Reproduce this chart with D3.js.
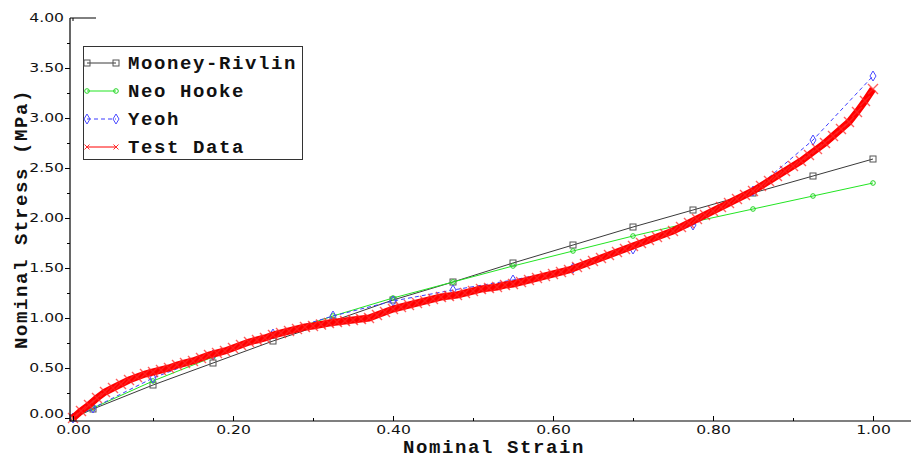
<!DOCTYPE html>
<html>
<head>
<meta charset="utf-8">
<script src="https://cdn.jsdelivr.net/npm/d3@7"></script>
<style>
  html, body { margin: 0; padding: 0; background: #fff; }
  svg { display: block; }
</style>
</head>
<body>
<svg id="chart" width="912" height="460"></svg>
<script>
// Hyperelastic model fits evaluated at a common set of nominal strains
const modelStrain = [0, 0.025, 0.1, 0.175, 0.25, 0.325, 0.4, 0.475, 0.55, 0.625, 0.7, 0.775, 0.85, 0.925, 1.0];
const mooneyRivlin = [0, 0.09, 0.33, 0.55, 0.77, 0.97, 1.18, 1.36, 1.55, 1.73, 1.91, 2.08, 2.25, 2.42, 2.59];
const neoHooke = [0, 0.10, 0.37, 0.61, 0.82, 1.02, 1.20, 1.36, 1.52, 1.67, 1.82, 1.96, 2.09, 2.22, 2.35];
const yeoh = [0, 0.10, 0.40, 0.63, 0.84, 1.02, 1.17, 1.28, 1.38, 1.50, 1.69, 1.93, 2.27, 2.78, 3.42];

// Uniaxial test measurements
const testStrain = [
  0.00, 0.01, 0.02, 0.03, 0.04, 0.05, 0.06, 0.07, 0.08, 0.09,
  0.10, 0.11, 0.12, 0.13, 0.14, 0.15, 0.16, 0.17, 0.18, 0.19,
  0.20, 0.21, 0.22, 0.23, 0.24, 0.25, 0.26, 0.27, 0.28, 0.29,
  0.30, 0.31, 0.32, 0.33, 0.34, 0.35, 0.36, 0.37, 0.38, 0.39,
  0.40, 0.41, 0.42, 0.43, 0.44, 0.45, 0.46, 0.47, 0.48, 0.49,
  0.50, 0.51, 0.52, 0.53, 0.54, 0.55, 0.56, 0.57, 0.58, 0.59,
  0.60, 0.61, 0.62, 0.63, 0.64, 0.65, 0.66, 0.67, 0.68, 0.69,
  0.70, 0.71, 0.72, 0.73, 0.74, 0.75, 0.76, 0.77, 0.78, 0.79,
  0.80, 0.81, 0.82, 0.83, 0.84, 0.85, 0.86, 0.87, 0.88, 0.89,
  0.90, 0.91, 0.92, 0.93, 0.94, 0.95, 0.96, 0.97, 0.98, 0.99,
  1.00
];
const testStress = [
  0.00, 0.07, 0.13, 0.20, 0.26, 0.30, 0.34, 0.38, 0.41, 0.44,
  0.46, 0.48, 0.50, 0.53, 0.55, 0.57, 0.60, 0.63, 0.65, 0.67,
  0.70, 0.73, 0.76, 0.78, 0.80, 0.83, 0.85, 0.87, 0.89, 0.91,
  0.92, 0.935, 0.95, 0.96, 0.97, 0.98, 0.99, 1.00, 1.03, 1.06,
  1.09, 1.11, 1.13, 1.15, 1.17, 1.19, 1.21, 1.22, 1.23, 1.25,
  1.27, 1.29, 1.30, 1.31, 1.33, 1.34, 1.36, 1.38, 1.40, 1.42,
  1.44, 1.46, 1.48, 1.51, 1.54, 1.57, 1.60, 1.63, 1.66, 1.69,
  1.72, 1.75, 1.78, 1.81, 1.84, 1.87, 1.91, 1.95, 1.99, 2.03,
  2.07, 2.11, 2.15, 2.19, 2.23, 2.27, 2.32, 2.37, 2.42, 2.47,
  2.52, 2.57, 2.63, 2.69, 2.75, 2.82, 2.89, 2.96, 3.06, 3.17,
  3.29
];

const xMajorTicks = [0, 0.2, 0.4, 0.6, 0.8, 1.0];
const xMinorTicks = [0.1, 0.3, 0.5, 0.7, 0.9];
const yMajorTicks = [0, 0.5, 1.0, 1.5, 2.0, 2.5, 3.0, 3.5, 4.0];
const yMinorTicks = [0.25, 0.75, 1.25, 1.75, 2.25, 2.75, 3.25, 3.75];

const xTitle = "Nominal Strain";
const yTitle = "Nominal Stress (MPa)";
const legendNames = ["Mooney-Rivlin", "Neo Hooke", "Yeoh", "Test Data"];

const svg = d3.select("#chart");
const x = d3.scaleLinear().domain([0, 1]).range([73, 873]);
const y = d3.scaleLinear().domain([0, 4]).range([418, 18]);

const axisX0 = 70;   // y-axis line position
const axisY0 = 421;  // x-axis line position
const labelFont = "'DejaVu Sans', sans-serif";
const titleFont = "'Liberation Mono', 'Courier New', monospace";
const titleSize = 19;
const titleSpacing = 1.6;
const sx = 1.25;     // horizontal stretch of tick labels

// ---- series styles
const styles = {
  "Mooney-Rivlin": { color: "#3a3a3a", marker: "square", mcolor: "#555", dash: null },
  "Neo Hooke":     { color: "#22e522", marker: "circle", mcolor: "#22d422", dash: null },
  "Yeoh":          { color: "#3b3bff", marker: "diamond", mcolor: "#4a4aff", dash: "4,3" },
  "Test Data":     { color: "#ff0000", marker: "cross", mcolor: "#ff2a2a", dash: null }
};

function drawMarker(g, type, cx, cy, color) {
  if (type === "square") {
    g.append("rect").attr("x", cx - 3).attr("y", cy - 3).attr("width", 6).attr("height", 6)
      .attr("fill", "none").attr("stroke", color).attr("stroke-width", 1);
  } else if (type === "circle") {
    g.append("circle").attr("cx", cx).attr("cy", cy).attr("r", 2.3)
      .attr("fill", "none").attr("stroke", color).attr("stroke-width", 1);
  } else if (type === "diamond") {
    g.append("path").attr("d", `M${cx},${cy - 5}L${cx + 3},${cy}L${cx},${cy + 5}L${cx - 3},${cy}Z`)
      .attr("fill", "none").attr("stroke", color).attr("stroke-width", 1);
  } else if (type === "cross") {
    g.append("path").attr("d", `M${cx - 5},${cy - 5}L${cx + 5},${cy + 5}M${cx - 5},${cy + 5}L${cx + 5},${cy - 5}`)
      .attr("fill", "none").attr("stroke", color).attr("stroke-width", 1.4).attr("stroke-opacity", 0.75);
  }
}

const line = d3.line().x(d => x(d[0])).y(d => y(d[1]));

function drawSeries(name, xs, ys, lineWidth) {
  const st = styles[name];
  const pts = xs.map((v, i) => [v, ys[i]]);
  const g = svg.append("g").attr("class", "series");
  g.append("path").datum(pts).attr("d", line)
    .attr("fill", "none").attr("stroke", st.color).attr("stroke-width", lineWidth)
    .attr("stroke-dasharray", st.dash);
  pts.forEach(p => drawMarker(g, st.marker, x(p[0]), y(p[1]), st.mcolor));
}

drawSeries("Mooney-Rivlin", modelStrain, mooneyRivlin, 1);
drawSeries("Neo Hooke", modelStrain, neoHooke, 1);
drawSeries("Yeoh", modelStrain, yeoh, 1);
drawSeries("Test Data", testStrain, testStress, 7);

// ---- axes
const gx = svg.append("g").attr("transform", `translate(0,${axisY0})`);
gx.call(d3.axisBottom(x).tickValues(xMajorTicks).tickSize(-5).tickSizeOuter(0).tickFormat(d3.format(".2f")));
gx.append("g").call(d3.axisBottom(x).tickValues(xMinorTicks).tickSize(-3).tickSizeOuter(0).tickFormat(""));
gx.selectAll(".domain").remove();
gx.selectAll("line").attr("stroke", "#000");
gx.selectAll("text")
  .attr("y", 0).attr("dy", null)
  .attr("transform", `translate(0,8.5) scale(${sx},1)`)
  .attr("dominant-baseline", "central")
  .attr("font-family", labelFont).attr("font-size", 12.5).attr("fill", "#111");

const gy = svg.append("g").attr("transform", `translate(${axisX0},0)`);
gy.call(d3.axisLeft(y).tickValues(yMajorTicks).tickSize(5).tickSizeOuter(0).tickFormat(d3.format(".2f")));
gy.append("g").call(d3.axisLeft(y).tickValues(yMinorTicks).tickSize(3).tickSizeOuter(0).tickFormat(""));
gy.selectAll(".domain").remove();
gy.selectAll("line").attr("stroke", "#000");
gy.selectAll(".tick").filter(d => d === 4).select("line").remove();
gy.selectAll("text")
  .attr("x", -6 / sx).attr("dy", null)
  .attr("dominant-baseline", "central")
  .attr("transform", d => `translate(0,${d === 0 ? -5 : -1}) scale(${sx},1)`)
  .attr("font-family", labelFont).attr("font-size", 12.5).attr("fill", "#111");

// axis lines
svg.append("line").attr("x1", axisX0).attr("x2", axisX0).attr("y1", y(4)).attr("y2", axisY0)
  .attr("stroke", "#000").attr("stroke-width", 1.2);
svg.append("line").attr("x1", axisX0).attr("x2", 911).attr("y1", axisY0).attr("y2", axisY0)
  .attr("stroke", "#000").attr("stroke-width", 1.2);
svg.append("line").attr("x1", axisX0).attr("x2", 96).attr("y1", y(4)).attr("y2", y(4))
  .attr("stroke", "#000").attr("stroke-width", 1);
svg.append("line").attr("x1", x(0)).attr("x2", x(0)).attr("y1", y(4)).attr("y2", y(4) + 3)
  .attr("stroke", "#000").attr("stroke-width", 1);

// ---- axis titles
svg.append("text").attr("x", 403).attr("y", 448)
  .attr("dominant-baseline", "central")
  .attr("font-family", titleFont).attr("font-weight", "bold").attr("font-size", titleSize)
  .attr("letter-spacing", titleSpacing)
  .attr("fill", "#111").text(xTitle);
svg.append("text")
  .attr("transform", "translate(22,219) rotate(-90)")
  .attr("text-anchor", "middle").attr("dominant-baseline", "central")
  .attr("font-family", titleFont).attr("font-weight", "bold").attr("font-size", titleSize)
  .attr("letter-spacing", titleSpacing)
  .attr("fill", "#111").text(yTitle);

// ---- legend
const legend = svg.append("g").attr("class", "legend");
legend.append("rect").attr("x", 83.5).attr("y", 46.5).attr("width", 219).attr("height", 113)
  .attr("fill", "#fff").attr("stroke", "#333").attr("stroke-width", 1);
legendNames.forEach((name, i) => {
  const st = styles[name];
  const cy = 63 + i * 28;
  const g = legend.append("g");
  g.append("line").attr("x1", 87).attr("x2", 116).attr("y1", cy).attr("y2", cy)
    .attr("stroke", st.color).attr("stroke-width", 1).attr("stroke-dasharray", st.dash);
  if (st.marker === "cross") {
    [87, 116].forEach(mx => g.append("path")
      .attr("d", `M${mx - 2.5},${cy - 2.5}L${mx + 2.5},${cy + 2.5}M${mx - 2.5},${cy + 2.5}L${mx + 2.5},${cy - 2.5}`)
      .attr("stroke", st.mcolor).attr("stroke-width", 1).attr("fill", "none"));
  } else {
    [87, 116].forEach(mx => drawMarker(g, st.marker, mx, cy, st.mcolor));
  }
  g.append("text").attr("x", 128).attr("y", cy + 1)
    .attr("dominant-baseline", "central")
    .attr("font-family", titleFont).attr("font-weight", "bold").attr("font-size", titleSize)
    .attr("letter-spacing", titleSpacing)
    .attr("fill", "#111").text(name);
});
</script>
</body>
</html>
